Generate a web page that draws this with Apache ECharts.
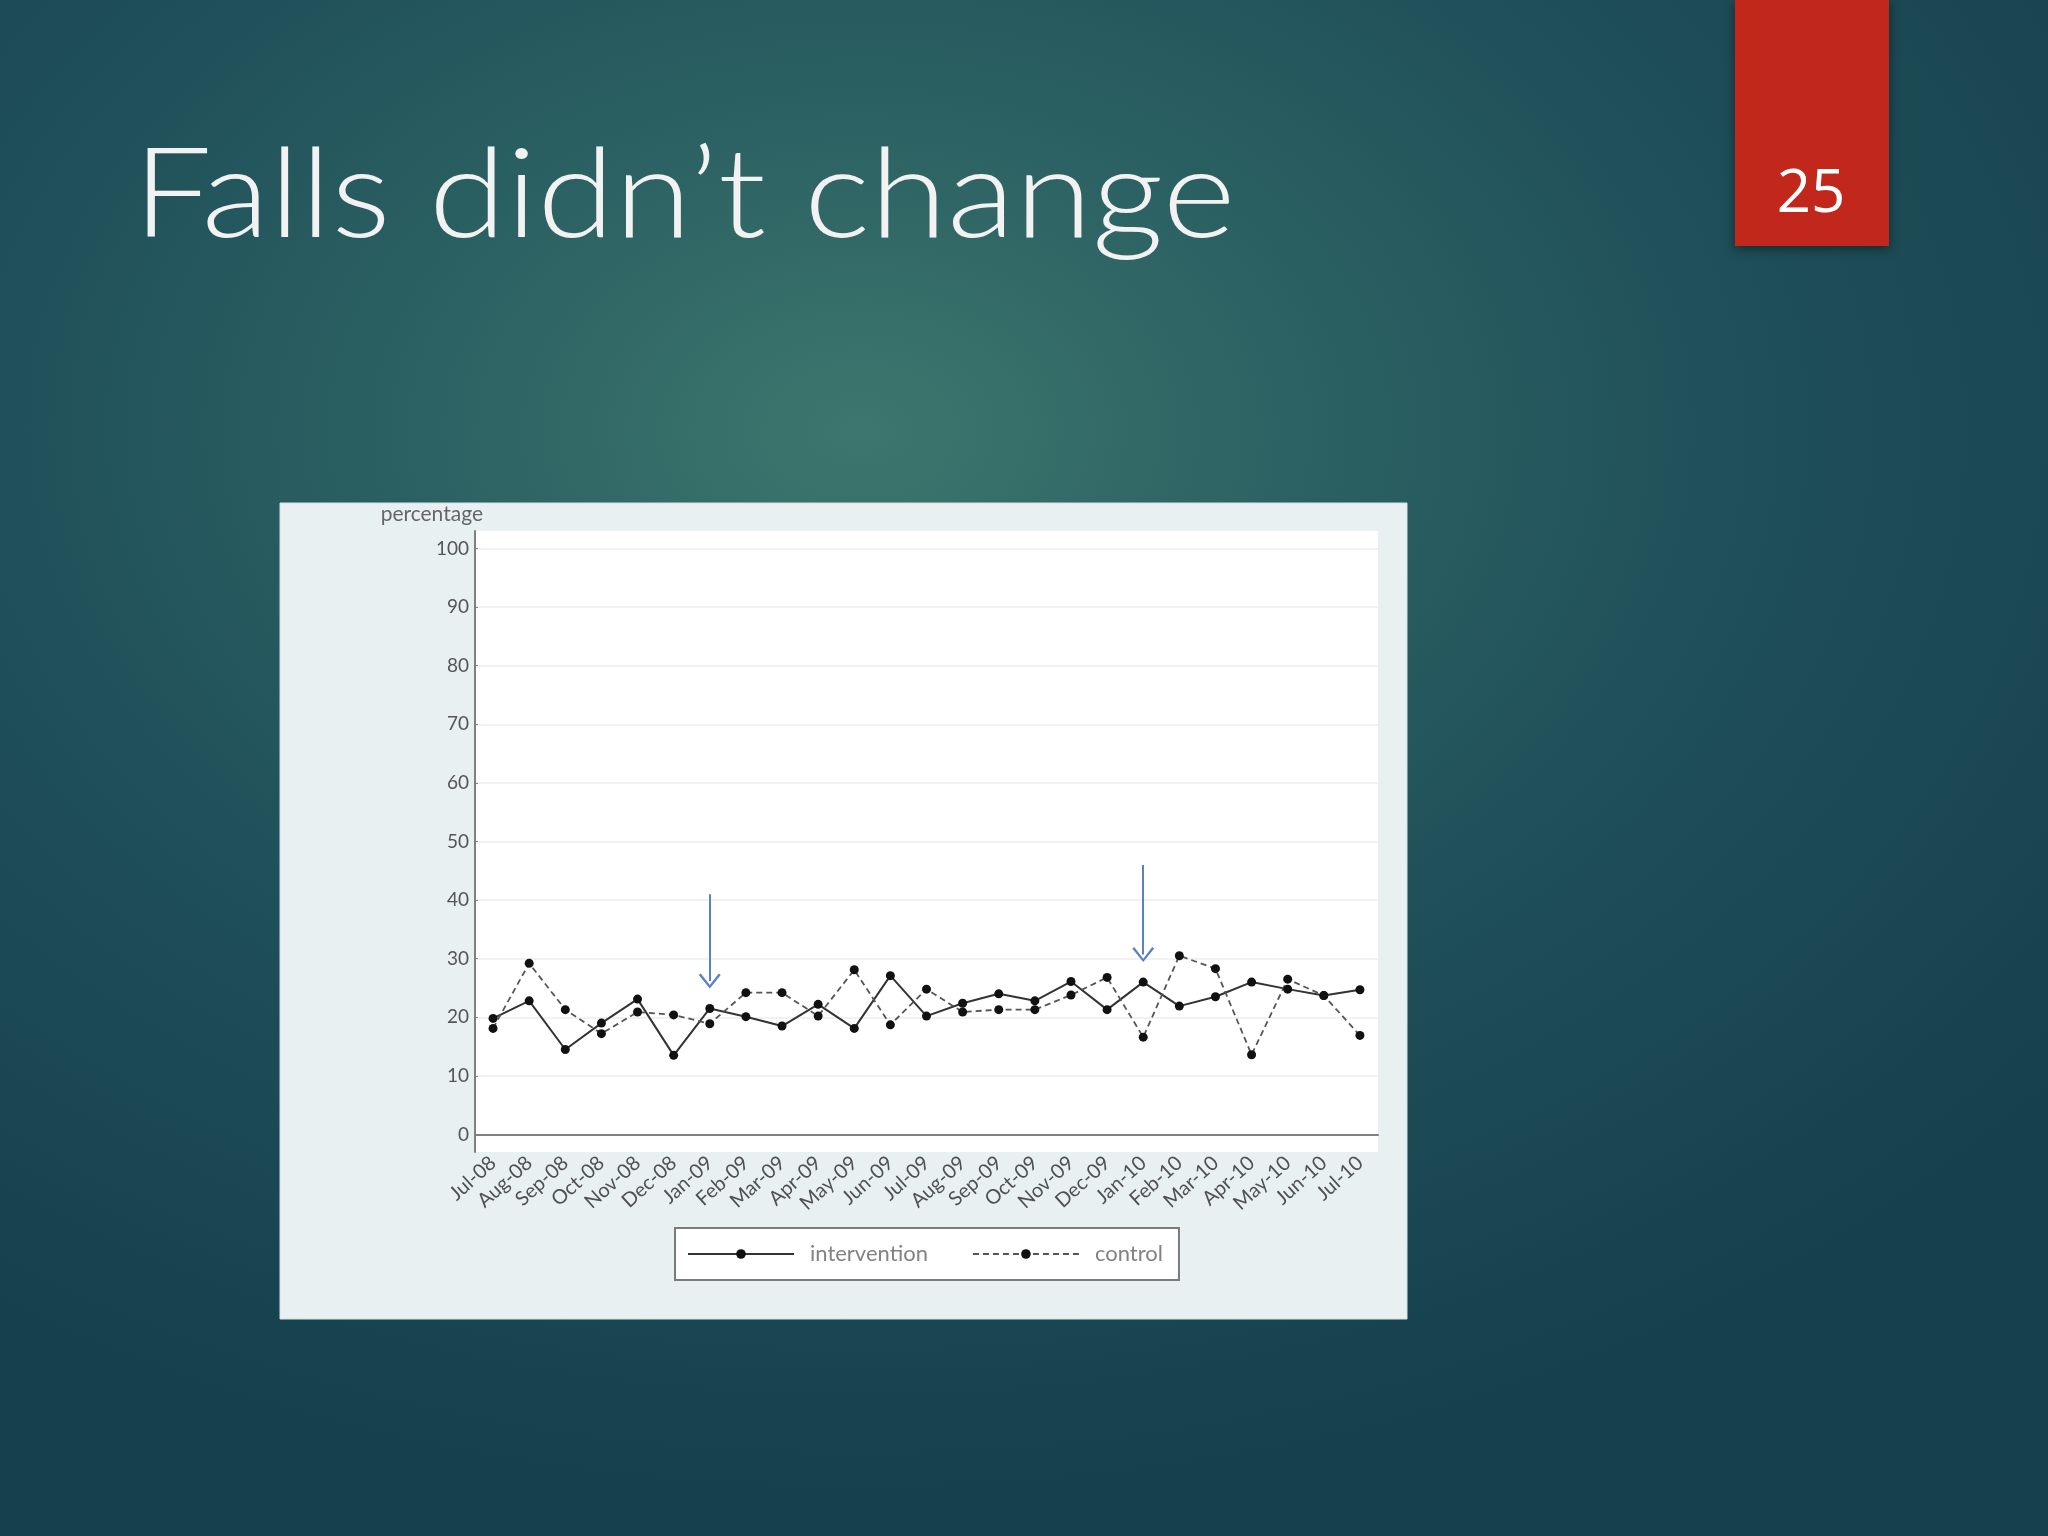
<!DOCTYPE html>
<html>
<head>
<meta charset="utf-8">
<script src="https://cdn.jsdelivr.net/npm/echarts@6/dist/echarts.min.js"></script>
<style>
  html, body { margin: 0; padding: 0; }
  body {
    width: 2048px; height: 1536px; overflow: hidden;
    background: radial-gradient(ellipse 75% 70% at 42% 28%, #3d766e 0%, #2c6263 28%, #1f4f59 58%, #15404d 100%);
  }
  #slide { position: absolute; left: 0; top: 0; width: 2048px; height: 1536px; }
</style>
</head>
<body>
<div id="slide"></div>
<script>
  // months along the x axis
  var months = ['Jul-08', 'Aug-08', 'Sep-08', 'Oct-08', 'Nov-08', 'Dec-08', 'Jan-09', 'Feb-09',
    'Mar-09', 'Apr-09', 'May-09', 'Jun-09', 'Jul-09', 'Aug-09', 'Sep-09', 'Oct-09', 'Nov-09',
    'Dec-09', 'Jan-10', 'Feb-10', 'Mar-10', 'Apr-10', 'May-10', 'Jun-10', 'Jul-10'];
  // percentage of falls
  var intervention = [19.8, 22.8, 14.5, 19.0, 23.1, 13.5, 21.5, 20.1, 18.5, 22.2, 18.1, 27.1, 20.2,
    22.4, 24.0, 22.8, 26.1, 21.3, 26.0, 21.9, 23.5, 26.0, 24.8, 23.7, 24.7];
  var control = [18.1, 29.2, 21.3, 17.2, 20.9, 20.4, 18.9, 24.2, 24.2, 20.2, 28.1, 18.7, 24.8,
    20.9, 21.3, 21.3, 23.8, 26.8, 16.6, 30.5, 28.3, 13.6, 26.5, 23.7, 16.9];
  var yTicks = [0, 10, 20, 30, 40, 50, 60, 70, 80, 90, 100];
  // blue arrows marking the start of the intervention
  var arrowMonths = ['Jan-09', 'Jan-10'];
  var arrowTop = [41, 46];
  var arrowEnd = [26.2, 30.7];

  var chart = echarts.init(document.getElementById('slide'));
  var font = 'Lato, "Open Sans", sans-serif';

  var arrowData = arrowMonths.map(function (m, i) {
    return [{ coord: [m, arrowTop[i]] }, { coord: [m, arrowEnd[i]] }];
  });

  var option = {
    animation: false,
    textStyle: { fontFamily: font },
    graphic: [
      // slide title (stretched a bit, the original face is wider)
      {
        type: 'text', x: 133, y: 135, scaleX: 1.13, z: 10,
        style: {
          text: 'Falls didn\u2019t change', fill: '#f2f2f2', verticalAlign: 'top',
          font: '300 124px Lato, "Open Sans", sans-serif'
        }
      },
      // page number block
      {
        type: 'rect', z: 10,
        shape: { x: 1735, y: 0, width: 154, height: 246 },
        style: { fill: '#c1281b', shadowBlur: 10, shadowColor: 'rgba(0,0,0,0.45)', shadowOffsetY: 3 }
      },
      {
        type: 'text', z: 11, x: 1811, y: 195,
        style: {
          text: '25', fill: '#ffffff', align: 'center', verticalAlign: 'middle',
          font: '60px "Open Sans", sans-serif'
        }
      },
      // picture panel behind the chart
      {
        type: 'rect', z: -10,
        shape: { x: 280, y: 503, width: 1127, height: 816 },
        style: { fill: '#e9f0f2', stroke: '#d7e0e3', lineWidth: 1 }
      }
    ],
    grid: {
      left: 475, right: 670, top: 531, bottom: 384,
      show: true, backgroundColor: '#ffffff', borderWidth: 0
    },
    legend: {
      left: 675, top: 1228,
      padding: [15, 16, 15, 12],
      itemWidth: 106, itemHeight: 12, itemGap: 44,
      backgroundColor: '#ffffff', borderColor: '#7a7a7a', borderWidth: 2,
      textStyle: { fontSize: 22, color: '#828282', fontFamily: font, padding: [0, 0, 0, 11] },
      data: ['intervention', 'control']
    },
    xAxis: {
      type: 'category',
      data: months,
      boundaryGap: true,
      axisLine: { lineStyle: { color: '#808080', width: 2 } },
      axisTick: { alignWithLabel: true, inside: true, length: 3, lineStyle: { color: '#808080' } },
      axisLabel: { rotate: 42, fontSize: 20, color: '#505050', margin: 8, interval: 0 },
      splitLine: { show: false }
    },
    yAxis: {
      type: 'value',
      min: -3, max: 103,
      name: 'percentage',
      nameLocation: 'end',
      nameGap: 6,
      nameTextStyle: { fontSize: 21, color: '#666666', align: 'right', padding: [0, -8, 0, 0] },
      axisLine: { show: true, lineStyle: { color: '#808080', width: 2 } },
      axisTick: { show: true, inside: true, length: 3, customValues: yTicks, lineStyle: { color: '#808080' } },
      axisLabel: { customValues: yTicks, fontSize: 19, color: '#555555', margin: 6 },
      splitLine: { show: true, lineStyle: { color: '#f1f1f1', width: 2 } }
    },
    series: [
      {
        name: 'intervention',
        type: 'line',
        data: intervention,
        symbol: 'circle', symbolSize: 9,
        itemStyle: { color: '#111111' },
        lineStyle: { color: '#333333', width: 2 },
        markLine: {
          silent: true,
          symbol: ['none', 'path://M0,14 L11,0 L22,14 L20,15.5 L11,3.5 L2,15.5 Z'],
          symbolSize: [22, 15],
          label: { show: false },
          lineStyle: { color: '#5a82c3', width: 2, type: 'solid' },
          data: arrowData
        }
      },
      {
        name: 'control',
        type: 'line',
        data: control,
        symbol: 'circle', symbolSize: 9,
        itemStyle: { color: '#111111' },
        lineStyle: { color: '#555555', width: 1.8, type: [6, 4] }
      }
    ]
  };

  chart.setOption(option);
</script>
</body>
</html>
